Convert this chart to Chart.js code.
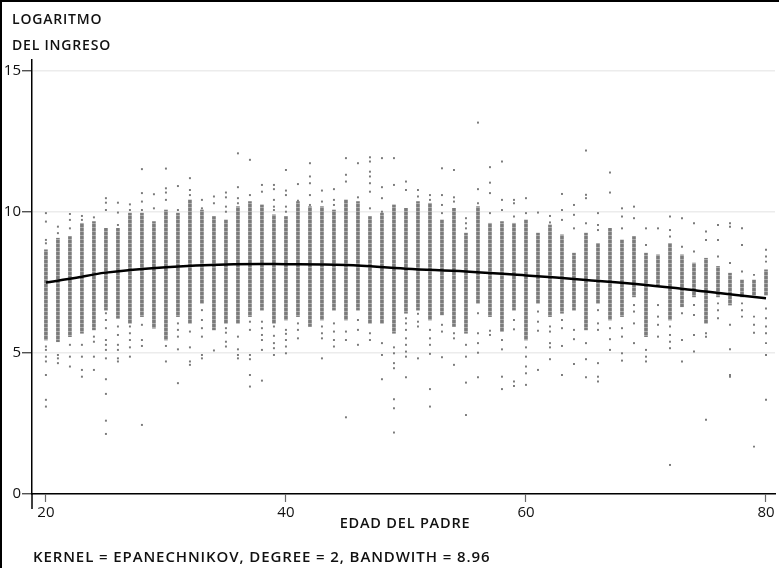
<!DOCTYPE html>
<html>
<head>
<meta charset="utf-8">
<script src="https://cdn.jsdelivr.net/npm/chart.js@4/dist/chart.umd.min.js"></script>
<style>
  body { margin: 0; background: #fff; }
  #wrap { width: 779px; height: 568px; }
</style>
</head>
<body>
<div id="wrap"><canvas id="chart" width="779" height="568"></canvas></div>
<script>
// edad del padre (one column of observations per year)
const ages = [];
for (let a = 20; a <= 80; a++) ages.push(a);

// dense part of each column (log income)
const coreLow = [5.46, 5.40, 5.58, 5.70, 5.82, 6.52, 6.23, 6.05, 6.29, 5.88,
  5.46, 6.29, 6.05, 6.76, 5.82, 6.05, 6.05, 6.29, 6.52, 6.05,
  6.17, 6.29, 5.94, 6.17, 6.52, 6.17, 6.52, 6.05, 6.05, 5.70,
  6.41, 6.52, 6.17, 6.35, 5.94, 5.70, 6.76, 6.29, 5.76, 6.52,
  5.46, 6.76, 6.29, 6.41, 6.52, 5.82, 6.76, 6.17, 6.29, 6.99,
  5.58, 7.41, 6.17, 6.64, 6.99, 6.05, 6.99, 6.70, 6.99, 7.05, 7.05];
const coreHigh = [8.66, 9.07, 9.13, 9.60, 9.66, 9.42, 9.42, 9.96, 9.96, 9.66,
  10.07, 9.96, 10.43, 10.07, 9.84, 9.72, 10.19, 10.37, 10.25, 9.90,
  9.84, 10.37, 10.19, 10.19, 10.07, 10.43, 10.37, 9.84, 9.96, 10.25,
  10.13, 10.37, 10.31, 9.72, 10.13, 9.25, 10.19, 9.60, 9.66, 9.60,
  9.72, 9.25, 9.54, 9.19, 8.54, 9.25, 8.89, 9.42, 9.01, 9.13,
  8.54, 8.48, 8.89, 8.48, 8.19, 8.36, 8.07, 7.83, 7.59, 7.59, 7.95];

// scattered observations outside the dense part, per age
const extraPoints = [
  [9.96, 9.66, 9.01, 8.89, 5.23, 5.11, 4.87, 4.70, 4.22, 3.34, 3.10],
  [9.48, 9.25, 4.93, 4.81, 4.64],
  [9.93, 9.72, 9.42, 5.29, 4.87, 4.52],
  [9.86, 9.72, 5.29, 4.87, 4.40, 4.16],
  [9.81, 5.58, 5.40, 4.87, 4.40],
  [10.49, 10.33, 10.07, 6.41, 6.17, 5.88, 5.46, 5.29, 5.11, 4.81, 4.07, 3.55, 2.60, 2.13],
  [10.33, 9.98, 9.54, 5.94, 5.64, 5.29, 5.11, 4.81, 4.70],
  [10.27, 10.07, 5.94, 5.70, 5.46, 5.20, 4.87],
  [11.52, 10.67, 10.37, 10.07, 6.00, 5.46, 5.25, 2.45],
  [10.63, 10.13],
  [11.54, 10.84, 10.69, 10.43, 5.25, 4.70],
  [10.92, 10.07, 6.05, 5.82, 5.58, 5.13, 3.93],
  [11.20, 10.78, 10.60, 5.76, 5.20, 4.70, 4.58],
  [10.43, 10.13, 6.52, 6.17, 5.88, 5.58, 4.93, 4.81],
  [10.55, 10.31, 5.09],
  [10.69, 10.52, 10.19, 10.01, 5.88, 5.72, 5.40, 5.23],
  [12.08, 10.88, 10.49, 10.31, 5.58, 5.13, 4.93, 4.81],
  [11.85, 10.60, 6.11, 5.82, 4.93, 4.78, 4.22, 3.81],
  [10.96, 10.72, 6.11, 5.88, 5.64, 5.46, 5.11, 4.02],
  [10.96, 10.81, 10.43, 10.19, 10.07, 5.94, 5.61, 5.35, 5.17, 4.93],
  [11.49, 10.76, 10.60, 10.19, 10.01, 5.82, 5.68, 5.46, 5.23, 4.99],
  [10.99, 10.40, 6.05, 5.82, 5.52],
  [11.73, 11.26, 11.02, 10.60, 10.25],
  [10.76, 10.37, 5.94, 5.70, 5.52, 4.81],
  [10.81, 10.43, 10.25, 6.05, 5.76, 5.46, 5.23],
  [11.91, 11.32, 11.08, 5.76, 5.46, 2.72],
  [11.73, 10.52, 6.17, 5.82, 5.29],
  [11.94, 11.79, 11.43, 11.26, 11.02, 10.72, 10.13, 5.70, 5.46],
  [11.91, 10.88, 10.49, 10.01, 5.35, 4.93, 4.07],
  [11.91, 10.96, 5.20, 4.99, 4.64, 4.46, 3.36, 3.04, 2.18],
  [11.08, 10.78, 6.23, 6.05, 5.82, 5.52, 5.29, 5.05, 4.87, 4.14],
  [10.78, 10.55, 6.39, 6.11, 5.94, 4.81],
  [10.60, 10.43, 5.82, 5.52, 5.29, 4.97, 3.72, 3.10],
  [11.55, 10.60, 10.25, 9.96, 6.00, 5.76, 4.85],
  [11.49, 10.52, 10.37, 5.70, 5.52, 4.58],
  [9.78, 9.60, 9.42, 5.29, 4.87, 3.95, 2.80],
  [13.17, 10.81, 10.31, 6.41, 5.70, 5.35, 5.01, 4.14],
  [11.59, 11.04, 10.67, 9.96, 5.79, 5.64],
  [11.79, 10.43, 10.07, 5.46, 5.13, 4.16, 3.72],
  [10.43, 10.31, 9.84, 6.17, 5.84, 3.99, 3.83],
  [10.49, 9.96, 5.20, 4.87, 4.52, 4.28, 3.87],
  [9.98, 6.47, 6.11, 5.79, 4.40],
  [9.86, 9.63, 5.94, 5.76, 5.35, 5.20, 4.78],
  [10.64, 10.07, 9.72, 6.17, 5.88, 5.25, 4.22],
  [10.25, 9.90, 9.42, 5.82, 5.49, 4.61],
  [12.18, 10.61, 10.49, 9.60, 5.35, 4.78, 4.14],
  [9.96, 9.54, 9.36, 6.52, 6.05, 5.82, 4.64, 4.16, 3.99],
  [11.40, 10.69, 5.88, 5.49, 5.11],
  [10.13, 9.84, 9.42, 5.88, 5.58, 4.99, 4.73],
  [10.19, 9.78, 6.70, 6.47, 6.05, 5.35],
  [9.42, 8.83, 5.11, 4.87, 4.70],
  [9.42, 6.70, 6.29, 6.00, 5.58],
  [9.84, 9.36, 9.13, 5.94, 5.64, 5.40, 5.17, 1.03],
  [9.78, 8.77, 6.41, 5.46, 4.70],
  [9.60, 8.60, 6.70, 6.35, 5.64, 5.05],
  [9.31, 9.01, 5.70, 5.58, 2.63],
  [9.54, 9.01, 8.42, 6.76, 6.52, 6.23],
  [9.60, 9.48, 8.19, 6.00, 5.13, 4.22, 4.16],
  [9.42, 8.83, 7.89, 6.76, 6.52, 6.29],
  [7.77, 6.29, 6.00, 5.72, 1.68],
  [8.66, 8.42, 8.24, 6.58, 6.23, 5.94, 5.70, 5.35, 4.93, 3.34]
];

// local polynomial fit (epanechnikov kernel)
const fitAges = [20, 22, 25, 30, 35, 40, 45, 50, 55, 60, 65, 70, 75, 80];
const fitValues = [7.50, 7.63, 7.85, 8.04, 8.14, 8.15, 8.12, 7.99, 7.89, 7.75, 7.59, 7.41, 7.18, 6.94];

const xTicks = [20, 40, 60, 80];
const yTicks = [0, 5, 10, 15];

const gray = "#7b7b7b";
const font = "'Open Sans', 'DejaVu Sans', sans-serif";

// faint texture so the dense columns read as stacked markers
const tile = document.createElement("canvas");
tile.width = 3; tile.height = 4;
const tctx = tile.getContext("2d");
tctx.fillStyle = gray;
tctx.fillRect(0, 0, 3, 4);
tctx.fillStyle = "rgba(170,170,170,1)";
tctx.fillRect(0, 3, 3, 1);
const ctx = document.getElementById("chart").getContext("2d");
const dotPattern = ctx.createPattern(tile, "repeat");

const coreData = ages.map((a, i) => ({ x: a, y: [coreLow[i], coreHigh[i]] }));
const extraData = [];
ages.forEach((a, i) => extraPoints[i].forEach(v => extraData.push({ x: a, y: v })));
const fitData = fitAges.map((a, i) => ({ x: a, y: fitValues[i] }));

const extraText = {
  id: "extraText",
  afterDraw(chart) {
    const c = chart.ctx;
    const area = chart.chartArea;
    c.save();
    // frame
    c.strokeStyle = "#000";
    c.lineWidth = 2;
    c.beginPath();
    c.moveTo(1, 568); c.lineTo(1, 1); c.lineTo(779, 1);
    c.stroke();
    // y axis line runs a little below zero
    c.lineWidth = 1.5;
    c.beginPath();
    c.moveTo(area.left, area.bottom); c.lineTo(area.left, area.bottom + 15);
    c.stroke();
    c.fillStyle = "#111";
    c.textBaseline = "middle";
    c.letterSpacing = "0.8px";
    c.font = "600 14px " + font;
    c.textAlign = "left";
    c.fillText("LOGARITMO", 12, 20);
    c.fillText("DEL INGRESO", 12, 46);
    c.textAlign = "center";
    c.font = "600 14.5px " + font;
    c.fillText("EDAD DEL PADRE", 405, 524);
    c.textAlign = "left";
    c.letterSpacing = "0.9px";
    c.font = "600 15px " + font;
    c.fillText("KERNEL = EPANECHNIKOV, DEGREE = 2, BANDWITH = 8.96", 33, 558);
    c.restore();
  }
};

new Chart(ctx, {
  type: "scatter",
  data: {
    datasets: [
      {
        type: "line",
        data: fitData,
        borderColor: "#000",
        borderWidth: 2.5,
        pointRadius: 0,
        tension: 0.4,
        fill: false
      },
      {
        type: "scatter",
        data: extraData,
        pointStyle: "rect",
        pointRadius: 1.4,
        borderWidth: 0,
        backgroundColor: gray
      },
      {
        type: "bar",
        data: coreData,
        backgroundColor: dotPattern,
        borderWidth: 0,
        barThickness: 3,
        grouped: false
      }
    ]
  },
  options: {
    responsive: false,
    devicePixelRatio: 1,
    animation: false,
    layout: { padding: { top: 60, left: 0, right: 0, bottom: 0 } },
    plugins: { legend: { display: false }, tooltip: { enabled: false } },
    scales: {
      x: {
        type: "linear",
        min: 18.84,
        max: 80.75,
        offset: false,
        afterBuildTicks: s => { s.ticks = xTicks.map(v => ({ value: v })); },
        afterFit: s => { s.height = 74; s.paddingLeft = 0; s.paddingRight = 0; },
        grid: { offset: false, drawOnChartArea: false, tickLength: 8, tickColor: "#666", tickWidth: 1.2 },
        border: { color: "#000", width: 1.5 },
        ticks: { color: "#111", font: { family: font, size: 15 }, padding: 2, maxRotation: 0 }
      },
      y: {
        type: "linear",
        min: 0,
        max: 15.39,
        afterBuildTicks: s => { s.ticks = yTicks.map(v => ({ value: v })); },
        afterFit: s => { s.width = 32; },
        grid: { color: "#ececec", lineWidth: 1.5, tickLength: 10, tickColor: "#333", tickWidth: 1.2 },
        border: { color: "#000", width: 1.5 },
        ticks: { color: "#111", font: { family: font, size: 15 }, padding: 1 }
      }
    }
  },
  plugins: [extraText]
});
</script>
</body>
</html>
